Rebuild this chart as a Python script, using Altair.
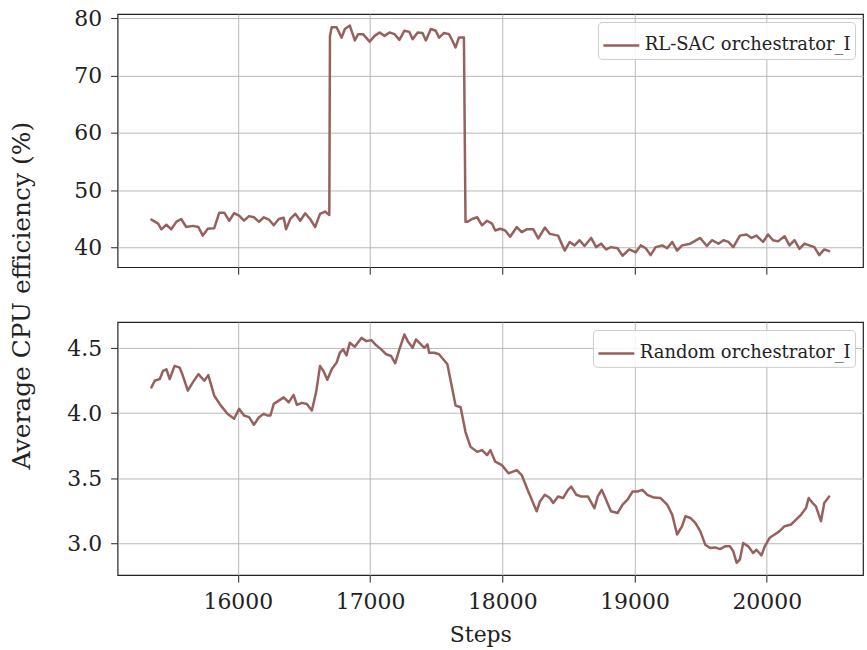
import altair as alt
import pandas as pd

FONT = "DejaVu Serif"
COLOR = "#98605c"
TEXT = "#222222"

# ---- data ----
x_ticks = [16000, 17000, 18000, 19000, 20000]

sac_steps = [
    15347, 15398, 15422, 15460, 15497, 15535, 15572, 15610, 15660, 15702,
    15735, 15773, 15822, 15860, 15897, 15935, 15972, 16010, 16047, 16085,
    16122, 16160, 16197, 16235, 16272, 16310, 16347, 16365, 16397, 16435,
    16472, 16510, 16547, 16585, 16622, 16660, 16692, 16697, 16710, 16747,
    16785, 16810, 16847, 16885, 16910, 16947, 16997, 17035, 17072, 17110,
    17147, 17185, 17222, 17260, 17297, 17322, 17360, 17397, 17422, 17460,
    17497, 17522, 17560, 17597, 17622, 17647, 17672, 17710, 17722, 17735,
    17772, 17810, 17847, 17885, 17922, 17947, 17985, 18022, 18060, 18110,
    18147, 18185, 18235, 18272, 18322, 18360, 18422, 18472, 18510, 18547,
    18585, 18622, 18672, 18710, 18747, 18785, 18822, 18872, 18910, 18960,
    19010, 19047, 19085, 19122, 19160, 19210, 19247, 19285, 19322, 19360,
    19422, 19497, 19547, 19585, 19635, 19672, 19710, 19747, 19797, 19847,
    19885, 19922, 19972, 20010, 20047, 20085, 20135, 20172, 20210, 20247,
    20285, 20322, 20360, 20397, 20435, 20472,
]
sac_values = [
    44.9, 44.2, 43.2, 44.0, 43.2, 44.5, 45.0, 43.6, 43.8, 43.6,
    42.1, 43.3, 43.4, 46.1, 46.1, 44.7, 46.0, 45.6, 44.7, 45.5,
    45.3, 44.5, 45.3, 44.9, 43.9, 45.0, 45.2, 43.2, 45.0, 45.9,
    44.7, 46.0, 45.0, 43.6, 45.9, 46.3, 45.7, 76.9, 78.4, 78.4,
    76.6, 78.1, 78.7, 76.1, 77.2, 77.2, 75.9, 76.9, 77.5, 76.9,
    77.5, 77.2, 76.2, 77.8, 77.6, 76.3, 77.5, 77.4, 76.1, 78.1,
    77.8, 76.6, 77.4, 77.2, 76.1, 74.9, 76.6, 76.6, 44.5, 44.5,
    45.0, 45.3, 43.9, 44.7, 44.2, 43.0, 43.3, 43.0, 41.9, 43.6,
    42.7, 43.2, 43.2, 41.6, 43.5, 42.4, 42.1, 39.5, 41.0, 40.4,
    41.3, 40.3, 41.7, 40.1, 40.7, 39.7, 40.1, 39.9, 38.6, 39.7,
    39.2, 40.4, 39.9, 38.7, 40.1, 40.4, 39.9, 41.0, 39.5, 40.4,
    40.7, 41.7, 40.3, 41.3, 40.7, 41.3, 41.0, 40.1, 42.1, 42.3,
    41.7, 42.1, 41.0, 42.3, 41.3, 41.1, 42.0, 40.4, 41.3, 39.8,
    40.7, 40.4, 40.1, 38.7, 39.7, 39.4,
]

rand_steps = [
    15347, 15372, 15410, 15435, 15460, 15485, 15522, 15560, 15585, 15622,
    15660, 15702, 15747, 15777, 15822, 15872, 15922, 15972, 16010, 16047,
    16085, 16122, 16160, 16197, 16222, 16247, 16272, 16310, 16347, 16385,
    16422, 16447, 16485, 16522, 16560, 16592, 16622, 16647, 16677, 16710,
    16747, 16772, 16797, 16822, 16847, 16885, 16935, 16972, 17010, 17047,
    17085, 17122, 17160, 17190, 17222, 17260, 17285, 17322, 17347, 17385,
    17410, 17435, 17447, 17485, 17522, 17585, 17622, 17647, 17685, 17722,
    17760, 17810, 17847, 17885, 17910, 17947, 17997, 18047, 18110, 18147,
    18197, 18260, 18285, 18322, 18360, 18385, 18422, 18460, 18497, 18522,
    18560, 18597, 18647, 18697, 18722, 18752, 18785, 18822, 18872, 18910,
    18947, 18985, 19022, 19060, 19097, 19147, 19197, 19247, 19285, 19322,
    19360, 19385, 19422, 19460, 19497, 19535, 19572, 19610, 19647, 19685,
    19722, 19747, 19772, 19797, 19822, 19860, 19897, 19922, 19960, 19985,
    20022, 20060, 20097, 20135, 20185, 20222, 20260, 20297, 20317, 20347,
    20372, 20410, 20435, 20472,
]
rand_values = [
    4.198, 4.249, 4.262, 4.325, 4.337, 4.262, 4.363, 4.350, 4.287, 4.173,
    4.236, 4.300, 4.249, 4.292, 4.134, 4.058, 3.995, 3.957, 4.033, 3.982,
    3.969, 3.911, 3.969, 3.995, 3.982, 3.982, 4.071, 4.096, 4.121, 4.083,
    4.140, 4.064, 4.079, 4.071, 4.020, 4.160, 4.363, 4.325, 4.256, 4.337,
    4.388, 4.464, 4.490, 4.444, 4.540, 4.510, 4.578, 4.553, 4.561, 4.521,
    4.490, 4.452, 4.439, 4.383, 4.490, 4.604, 4.553, 4.502, 4.566, 4.528,
    4.502, 4.528, 4.464, 4.464, 4.452, 4.376, 4.185, 4.058, 4.045, 3.855,
    3.741, 3.703, 3.716, 3.677, 3.716, 3.627, 3.601, 3.538, 3.563, 3.525,
    3.398, 3.246, 3.322, 3.373, 3.348, 3.310, 3.360, 3.348, 3.411, 3.436,
    3.373, 3.360, 3.360, 3.271, 3.360, 3.411, 3.335, 3.246, 3.233, 3.297,
    3.335, 3.398, 3.398, 3.411, 3.373, 3.352, 3.348, 3.297, 3.221, 3.068,
    3.132, 3.208, 3.195, 3.157, 3.094, 2.990, 2.964, 2.969, 2.956, 2.977,
    2.977, 2.939, 2.851, 2.876, 3.003, 2.977, 2.926, 2.951, 2.908, 2.977,
    3.043, 3.068, 3.094, 3.132, 3.145, 3.183, 3.221, 3.271, 3.348, 3.310,
    3.284, 3.170, 3.310, 3.360,
]

sac_name = "RL-SAC orchestrator_I"
rand_name = "Random orchestrator_I"
sac_ticks = [40, 50, 60, 70, 80]
rand_ticks = [3.0, 3.5, 4.0, 4.5]

x_domain = [15091, 20728]
sac_domain = [36.6, 80.7]
rand_domain = [2.756, 4.70]

sac_df = pd.DataFrame({"step": sac_steps, "value": sac_values, "series": sac_name})
rand_df = pd.DataFrame({"step": rand_steps, "value": rand_values, "series": rand_name})


def panel(df, name, ydomain, yticks, yfmt, bottom):
    xaxis = alt.Axis(
        values=x_ticks,
        format="d",
        labels=bottom,
        title="Steps" if bottom else None,
        titleX=364,
        titleAnchor="start",
        titleAlign="center",
    )
    return (
        alt.Chart(df)
        .mark_line(strokeWidth=2.5, strokeJoin="round", strokeCap="round")
        .encode(
            x=alt.X("step:Q", scale=alt.Scale(domain=x_domain, nice=False, zero=False), axis=xaxis),
            y=alt.Y(
                "value:Q",
                scale=alt.Scale(domain=ydomain, nice=False, zero=False),
                axis=alt.Axis(values=yticks, format=yfmt, title=None),
            ),
            color=alt.Color(
                "series:N",
                scale=alt.Scale(domain=[name], range=[COLOR]),
                legend=alt.Legend(
                    title=None,
                    orient="top-right",
                    offset=8,
                    symbolType="stroke",
                    symbolStrokeWidth=2.5,
                    symbolSize=1300,
                    labelFont=FONT,
                    labelFontSize=18,
                    labelColor=TEXT,
                    labelLimit=0,
                    strokeColor="#cccccc",
                    fillColor="rgba(255,255,255,0.85)",
                    cornerRadius=4,
                    padding=4,
                ),
            ),
        )
        .properties(width=748, height=254)
    )


top = panel(sac_df, sac_name, sac_domain, sac_ticks, "d", False)
bottom = panel(rand_df, rand_name, rand_domain, rand_ticks, ".1f", True)

chart = (
    alt.vconcat(top, bottom, spacing=45)
    .resolve_scale(color="independent")
    .resolve_legend(color="independent")
    .properties(
        title=alt.Title(
            "Average CPU efficiency (%)",
            orient="left",
            anchor="middle",
            font=FONT,
            fontSize=25,
            fontWeight="normal",
            color=TEXT,
            dx=31,
            offset=31,
        ),
        padding={"left": 10, "top": 5, "right": 3, "bottom": 0},
        background="white",
    )
    .configure_view(stroke="#222222", strokeWidth=1.2)
    .configure_axis(
        grid=True,
        gridColor="#b8b8b8",
        gridWidth=1,
        domain=False,
        tickColor=TEXT,
        tickSize=7,
        tickWidth=1,
        labelFont=FONT,
        labelFontSize=22,
        labelColor=TEXT,
        labelPadding=9,
        titleFont=FONT,
        titleFontSize=22,
        titleFontWeight="normal",
        titleColor=TEXT,
    )
    .configure_axisX(labelPadding=9, titlePadding=13)
)

chart.save("out.html", embed_options={"renderer": "svg", "actions": False})
